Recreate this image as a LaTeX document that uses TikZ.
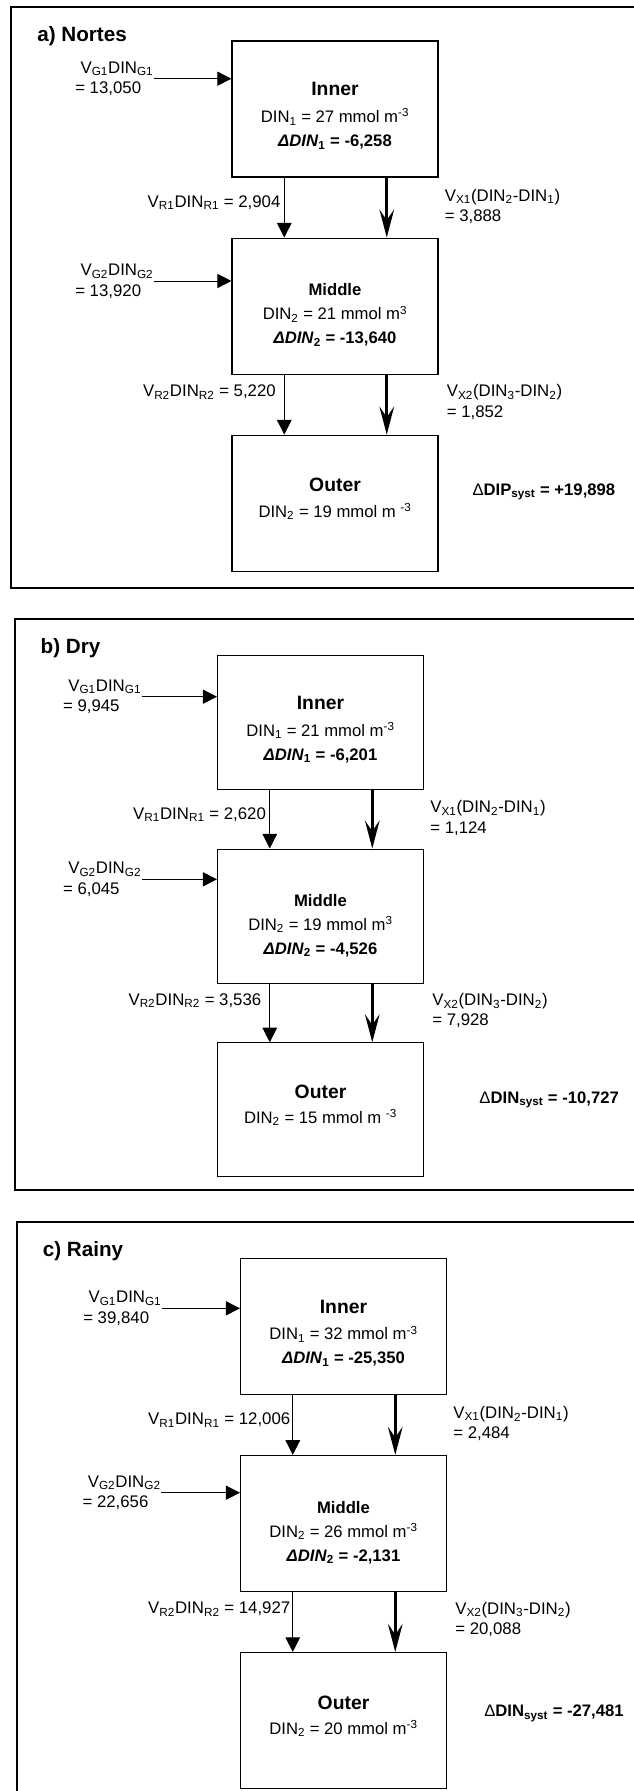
\documentclass[tikz,border=0pt]{standalone}
\usepackage{fontspec}
\setmainfont{Liberation Sans}
\usetikzlibrary{calc}
\usetikzlibrary{positioning}
\usetikzlibrary{arrows.meta}

\tikzset{
  panel/.style={draw, line width=1.5pt},
  box/.style={draw, line width=0.8pt, minimum width=154.5pt, minimum height=102pt, inner sep=0pt},
  boxtext/.style={align=center, inner sep=0pt, font=\fontsize{12.5}{18}\selectfont},
  heading/.style={anchor=west, inner sep=0pt, font=\bfseries\fontsize{15.5}{18}\selectfont},
  flowlabel/.style={align=left, inner sep=0pt, font=\fontsize{12.6}{15.5}\selectfont},
  budget/.style={anchor=west, inner sep=0pt, font=\bfseries\fontsize{12.5}{15}\selectfont},
  inflow/.style={line width=0.75pt, -{Triangle[length=10.5pt, width=10.5pt]}},
  retflow/.style={line width=0.75pt, -{Triangle[length=11pt, width=11pt]}},
  mixflow/.style={line width=2.2pt, -{Stealth[length=21pt, width=11pt, inset=8pt]}}
}
\newcommand{\zonename}[1]{{\bfseries\fontsize{14.5}{18}\selectfont #1}}

\begin{document}
\begin{tikzpicture}[x=0.75pt, y=-0.75pt]
    \useasboundingbox (0,0) rectangle (634,1791);
    \clip (0,0) rectangle (634,1791);

    % a) Nortes
    \draw [panel] (11.3,7.3) rectangle (660,588);
    \node [heading] (ta) at (37,36) {a) Nortes};
    \node [box] (ia) at (335,109) {};
    \node [box, below=45pt of ia] (ma) {};
    \node [box, below=45pt of ma] (oa) {};
    \node [boxtext, below=31.4pt of ia.north] (iat) {\zonename{Inner}\\[2pt] DIN\textsubscript{1} = 27 mmol m\textsuperscript{-3}\\ \textbf{\textit{ΔDIN}\textsubscript{1} = -6,258}};
    \node [boxtext, below=34.5pt of ma.north] (mat) {\textbf{Middle}\\ DIN\textsubscript{2} = 21 mmol m\textsuperscript{3}\\ \textbf{\textit{ΔDIN}\textsubscript{2} = -13,640}};
    \node [boxtext, below=32.5pt of oa.north] (oat) {\zonename{Outer}\\[1pt] DIN\textsubscript{2} = 19 mmol m \textsuperscript{-3}};

    \node [flowlabel, anchor=east] (ga1) at (153.7,78.7) {\hspace*{4pt}V\textsubscript{G1}DIN\textsubscript{G1}\\= 13,050};
    \node [flowlabel, anchor=east] (ga2) at (153.7,281) {\hspace*{4pt}V\textsubscript{G2}DIN\textsubscript{G2}\\= 13,920};
    \draw [inflow] (ga1.east) -- (ga1.east -| ia.west);
    \draw [inflow] (ga2.east) -- (ga2.east -| ma.west);

    \draw [retflow] ($(ia.south west)!0.255!(ia.south east)$) -- node [flowlabel, pos=0.42, left=2.5pt] (ra1) {V\textsubscript{R1}DIN\textsubscript{R1} = 2,904} ($(ma.north west)!0.255!(ma.north east)$);
    \draw [mixflow] ($(ia.south west)!0.75!(ia.south east)$) -- ($(ma.north west)!0.75!(ma.north east)$);
    \node [flowlabel, anchor=west] (xa1) at ([xshift=4.5pt, yshift=-21.6pt]ia.south east) {V\textsubscript{X1}(DIN\textsubscript{2}-DIN\textsubscript{1})\\= 3,888};

    \draw [retflow] ($(ma.south west)!0.255!(ma.south east)$) -- node [flowlabel, pos=0.29, left=6pt] (ra2) {V\textsubscript{R2}DIN\textsubscript{R2} = 5,220} ($(oa.north west)!0.255!(oa.north east)$);
    \draw [mixflow] ($(ma.south west)!0.75!(ma.south east)$) -- ($(oa.north west)!0.75!(oa.north east)$);
    \node [flowlabel, anchor=west] (xa2) at ([xshift=6pt, yshift=-20.6pt]ma.south east) {V\textsubscript{X2}(DIN\textsubscript{3}-DIN\textsubscript{2})\\= 1,852};

    \node [budget] (sa) at (472.3,491.7) {{\mdseries Δ}DIP\textsubscript{syst} = +19,898};

    % b) Dry
    \draw [panel] (14.5,619.3) rectangle (660,1190);
    \node [heading] (tb) at (40.4,648.3) {b) Dry};
    \node [box, minimum height=100.5pt] (ib) at (320.5,722.3) {};
    \node [box, minimum height=100.5pt, below=44pt of ib] (mb) {};
    \node [box, minimum height=100.5pt, below=44pt of mb] (ob) {};
    \node [boxtext, below=31pt of ib.north] (ibt) {\zonename{Inner}\\[2pt] DIN\textsubscript{1} = 21 mmol m\textsuperscript{-3}\\ \textbf{\textit{ΔDIN}\textsubscript{1} = -6,201}};
    \node [boxtext, below=34pt of mb.north] (mbt) {\textbf{Middle}\\ DIN\textsubscript{2} = 19 mmol m\textsuperscript{3}\\ \textbf{\textit{ΔDIN}\textsubscript{2} = -4,526}};
    \node [boxtext, below=31.5pt of ob.north] (obt) {\zonename{Outer}\\[1pt] DIN\textsubscript{2} = 15 mmol m \textsuperscript{-3}};

    \node [flowlabel, anchor=east] (gb1) at (141.5,696.7) {\hspace*{4pt}V\textsubscript{G1}DIN\textsubscript{G1}\\= 9,945};
    \node [flowlabel, anchor=east] (gb2) at (141.5,879.3) {\hspace*{4pt}V\textsubscript{G2}DIN\textsubscript{G2}\\= 6,045};
    \draw [inflow] (gb1.east) -- (gb1.east -| ib.west);
    \draw [inflow] (gb2.east) -- (gb2.east -| mb.west);

    \draw [retflow] ($(ib.south west)!0.255!(ib.south east)$) -- node [flowlabel, pos=0.42, left=2.5pt] (rb1) {V\textsubscript{R1}DIN\textsubscript{R1} = 2,620} ($(mb.north west)!0.255!(mb.north east)$);
    \draw [mixflow] ($(ib.south west)!0.75!(ib.south east)$) -- ($(mb.north west)!0.75!(mb.north east)$);
    \node [flowlabel, anchor=west] (xb1) at ([xshift=4.5pt, yshift=-21.2pt]ib.south east) {V\textsubscript{X1}(DIN\textsubscript{2}-DIN\textsubscript{1})\\= 1,124};

    \draw [retflow] ($(mb.south west)!0.255!(mb.south east)$) -- node [flowlabel, pos=0.29, left=6pt] (rb2) {V\textsubscript{R2}DIN\textsubscript{R2} = 3,536} ($(ob.north west)!0.255!(ob.north east)$);
    \draw [mixflow] ($(mb.south west)!0.75!(mb.south east)$) -- ($(ob.north west)!0.75!(ob.north east)$);
    \node [flowlabel, anchor=west] (xb2) at ([xshift=6pt, yshift=-20.3pt]mb.south east) {V\textsubscript{X2}(DIN\textsubscript{3}-DIN\textsubscript{2})\\= 7,928};

    \node [budget] (sb) at (479.2,1100) {{\mdseries Δ}DIN\textsubscript{syst} = -10,727};

    % c) Rainy
    \draw [panel] (17,1221.7) rectangle (660,1810);
    \node [heading] (tc) at (42.5,1250.7) {c) Rainy};
    \node [box] (ic) at (343.5,1326.3) {};
    \node [box, below=45pt of ic] (mc) {};
    \node [box, below=45pt of mc] (oc) {};
    \node [boxtext, below=31.4pt of ic.north] (ict) {\zonename{Inner}\\[2pt] DIN\textsubscript{1} = 32 mmol m\textsuperscript{-3}\\ \textbf{\textit{ΔDIN}\textsubscript{1} = -25,350}};
    \node [boxtext, below=34.5pt of mc.north] (mct) {\textbf{Middle}\\ DIN\textsubscript{2} = 26 mmol m\textsuperscript{-3}\\ \textbf{\textit{ΔDIN}\textsubscript{2} = -2,131}};
    \node [boxtext, below=32.5pt of oc.north] (oct) {\zonename{Outer}\\[1pt] DIN\textsubscript{2} = 20 mmol m\textsuperscript{-3}};

    \node [flowlabel, anchor=east] (gc1) at (161.7,1308.3) {\hspace*{4pt}V\textsubscript{G1}DIN\textsubscript{G1}\\= 39,840};
    \node [flowlabel, anchor=east] (gc2) at (161,1492.7) {\hspace*{4pt}V\textsubscript{G2}DIN\textsubscript{G2}\\= 22,656};
    \draw [inflow] (gc1.east) -- (gc1.east -| ic.west);
    \draw [inflow] (gc2.east) -- (gc2.east -| mc.west);

    \draw [retflow] ($(ic.south west)!0.255!(ic.south east)$) -- node [flowlabel, pos=0.42, left=1.5pt] (rc1) {V\textsubscript{R1}DIN\textsubscript{R1} = 12,006} ($(mc.north west)!0.255!(mc.north east)$);
    \draw [mixflow] ($(ic.south west)!0.75!(ic.south east)$) -- ($(mc.north west)!0.75!(mc.north east)$);
    \node [flowlabel, anchor=west] (xc1) at ([xshift=4.5pt, yshift=-21.6pt]ic.south east) {V\textsubscript{X1}(DIN\textsubscript{2}-DIN\textsubscript{1})\\= 2,484};

    \draw [retflow] ($(mc.south west)!0.255!(mc.south east)$) -- node [flowlabel, pos=0.29, left=1.5pt] (rc2) {V\textsubscript{R2}DIN\textsubscript{R2} = 14,927} ($(oc.north west)!0.255!(oc.north east)$);
    \draw [mixflow] ($(mc.south west)!0.75!(mc.south east)$) -- ($(oc.north west)!0.75!(oc.north east)$);
    \node [flowlabel, anchor=west] (xc2) at ([xshift=6pt, yshift=-20.6pt]mc.south east) {V\textsubscript{X2}(DIN\textsubscript{3}-DIN\textsubscript{2})\\= 20,088};

    \node [budget] (sc) at (484,1713.3) {{\mdseries Δ}DIN\textsubscript{syst} = -27,481};
\end{tikzpicture}
\end{document}
